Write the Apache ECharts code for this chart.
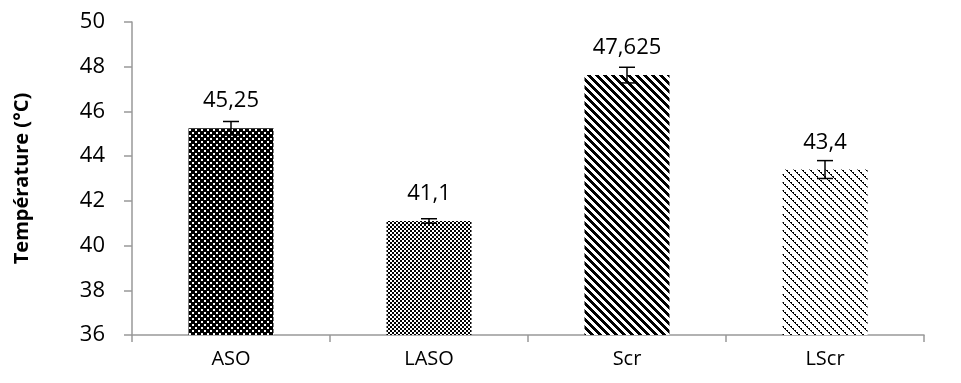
<!DOCTYPE html>
<html>
<head>
<meta charset="utf-8">
<script src="https://cdn.jsdelivr.net/npm/echarts@6/dist/echarts.min.js"></script>
<style>
  html, body { margin: 0; padding: 0; background: #fff; }
  #chart { width: 961px; height: 383px; }
</style>
</head>
<body>
<div id="chart"></div>
<script>
var categories = ["ASO", "LASO", "Scr", "LScr"];
var temperatures = [45.25, 41.1, 47.625, 43.4];
var errors = [0.3, 0.1, 0.35, 0.4];
var yTicks = [36, 38, 40, 42, 44, 46, 48, 50];

// little hatch tiles, like the excel pattern fills
function makeTile(size, isBlack) {
  var c = document.createElement("canvas");
  c.width = size;
  c.height = size;
  var ctx = c.getContext("2d");
  ctx.fillStyle = "#fff";
  ctx.fillRect(0, 0, size, size);
  ctx.fillStyle = "#000";
  for (var y = 0; y < size; y++) {
    for (var x = 0; x < size; x++) {
      if (isBlack(x, y)) ctx.fillRect(x, y, 1, 1);
    }
  }
  return c;
}

var patterns = [
  // ASO: black crosses, small white holes
  makeTile(6, function (x, y) {
    var hole = (x < 2 && y < 2) || (x >= 3 && x < 5 && y >= 3 && y < 5);
    return !hole;
  }),
  // LASO: small checker
  makeTile(4, function (x, y) {
    return (x < 2) == (y < 2);
  }),
  // Scr: wide downward diagonal
  makeTile(8, function (x, y) {
    return ((x - y + 16) % 8) < 4;
  }),
  // LScr: dotted downward diagonal
  makeTile(8, function (x, y) {
    var d = (x - y + 16) % 8;
    return (d == 0 || d == 1) && ((x + y) % 4) < 3;
  })
];

var barData = temperatures.map(function (v, i) {
  return {
    value: v,
    itemStyle: { color: { image: patterns[i], repeat: "repeat" } }
  };
});

var errData = temperatures.map(function (v, i) {
  return [i, v - errors[i], v + errors[i]];
});

var font = "Open Sans";

var chart = echarts.init(document.getElementById("chart"));
var option = {
  animation: false,
  grid: { left: 132, right: 37, top: 22, bottom: 48 },
  xAxis: {
    type: "category",
    data: categories,
    axisLine: { lineStyle: { color: "#999", width: 1.5 } },
    axisTick: { show: true, length: 7, lineStyle: { color: "#999", width: 1.5 } },
    axisLabel: { color: "#000", fontSize: 20, fontFamily: font, margin: 14 }
  },
  yAxis: {
    type: "value",
    min: yTicks[0],
    max: yTicks[yTicks.length - 1],
    interval: 2,
    name: "Température (°C)",
    nameLocation: "middle",
    nameGap: 100,
    nameTextStyle: { color: "#000", fontSize: 20, fontWeight: "bold", fontFamily: font },
    splitLine: { show: false },
    axisLine: { show: true, lineStyle: { color: "#999", width: 1.5 } },
    axisTick: { show: true, length: 8, lineStyle: { color: "#999", width: 1.5 } },
    axisLabel: { color: "#000", fontSize: 22, fontFamily: font, margin: 27 }
  },
  series: [
    {
      type: "bar",
      data: barData,
      barWidth: 85,
      label: {
        show: true,
        position: "top",
        distance: 16,
        color: "#000",
        fontSize: 22,
        fontFamily: font,
        formatter: function (p) {
          return String(p.value).replace(".", ",");
        }
      }
    },
    {
      type: "custom",
      data: errData,
      z: 10,
      renderItem: function (params, api) {
        var lo = api.coord([api.value(0), api.value(1)]);
        var hi = api.coord([api.value(0), api.value(2)]);
        var w = 8;
        var st = { stroke: "#000", lineWidth: 1.5 };
        return {
          type: "group",
          children: [
            { type: "line", shape: { x1: hi[0], y1: hi[1], x2: lo[0], y2: lo[1] }, style: st },
            { type: "line", shape: { x1: hi[0] - w, y1: hi[1], x2: hi[0] + w, y2: hi[1] }, style: st },
            { type: "line", shape: { x1: lo[0] - w, y1: lo[1], x2: lo[0] + w, y2: lo[1] }, style: st }
          ]
        };
      }
    }
  ]
};
chart.setOption(option);
</script>
</body>
</html>
